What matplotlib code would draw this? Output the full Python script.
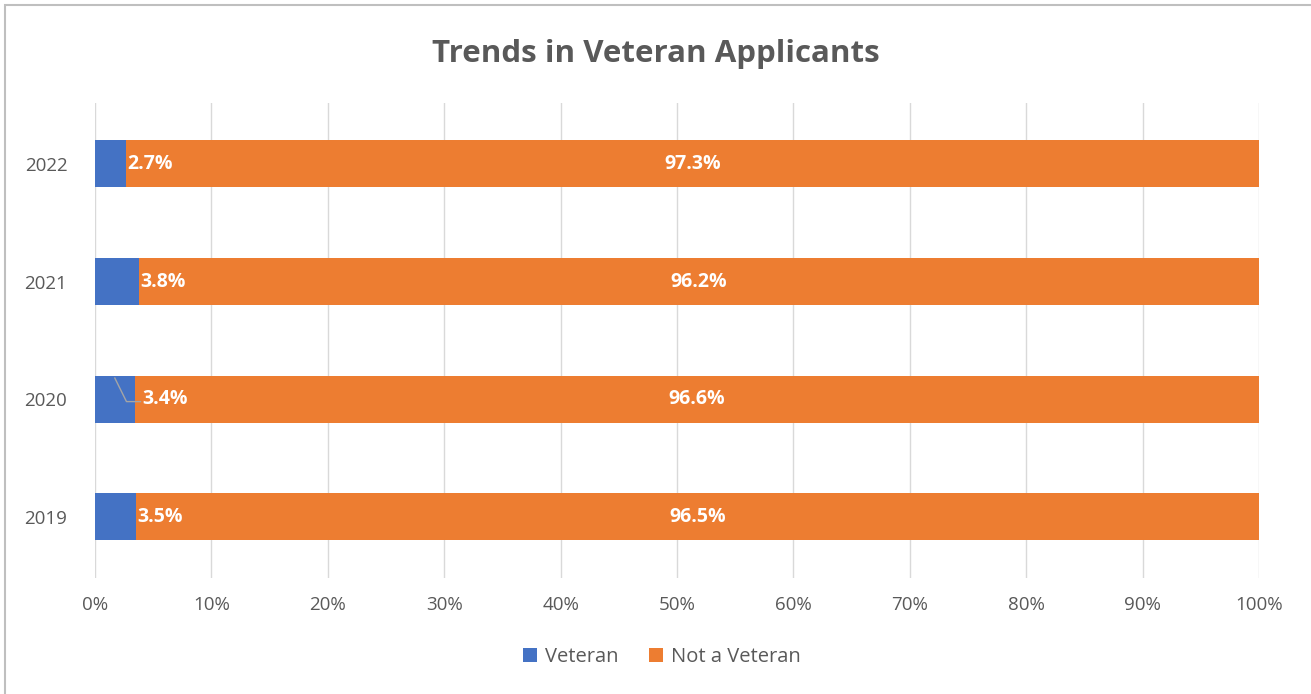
import matplotlib.pyplot as plt
from matplotlib.patches import Rectangle

years = ["2019", "2020", "2021", "2022"]
veteran = [3.5, 3.4, 3.8, 2.7]
not_veteran = [96.5, 96.6, 96.2, 97.3]
ticks = list(range(0, 101, 10))

blue = "#4472C4"
orange = "#ED7D31"
gray = "#595959"

plt.rcParams["font.family"] = ["Open Sans", "DejaVu Sans"]

fig = plt.figure(figsize=(13.11, 6.94), dpi=100)
ax = fig.add_axes([0.0725, 0.167, 0.8878, 0.685])

y = list(range(len(years)))
ax.barh(y, veteran, height=0.4, color=blue, label="Veteran", zorder=3)
ax.barh(y, not_veteran, left=veteran, height=0.4, color=orange, label="Not a Veteran", zorder=3)

for i in y:
    v = veteran[i]
    n = not_veteran[i]
    if years[i] == "2020":
        # leader line for the small segment label
        ax.plot([1.7, 2.7, 3.9], [i + 0.18, i - 0.02, i - 0.02], color="#a5a5a5", lw=1, zorder=4)
        ax.text(4.1, i, f"{v}%", color="white", fontsize=14, fontweight="bold", va="center", ha="left", zorder=5)
    else:
        ax.text(v + 0.1, i, f"{v}%", color="white", fontsize=14, fontweight="bold", va="center", ha="left", zorder=5)
    ax.text(v + n / 2, i, f"{n}%", color="white", fontsize=14, fontweight="bold", va="center", ha="center", zorder=5)

ax.set_xlim(0, 100)
ax.set_ylim(-0.52, 3.52)
ax.set_xticks(ticks)
ax.set_xticklabels([f"{t}%" for t in ticks])
ax.set_yticks(y)
ax.set_yticklabels(years)
ax.tick_params(length=0, colors=gray, labelsize=13.5, pad=13)
ax.tick_params(axis="y", pad=20)
ax.grid(axis="x", color="#d9d9d9", lw=1, zorder=0)
for s in ax.spines.values():
    s.set_visible(False)

fig.suptitle("Trends in Veteran Applicants", y=0.944, fontsize=22.5, fontweight="bold", color=gray)

leg = fig.legend(loc="center", bbox_to_anchor=(0.505, 0.053), ncol=2, frameon=False,
                 fontsize=14.5, handlelength=0.7, handleheight=0.7, handletextpad=0.4, columnspacing=1.5)
for t in leg.get_texts():
    t.set_color(gray)

fig.patches.append(Rectangle((5 / 1311, -0.01), 1.02, 1.0028, transform=fig.transFigure,
                             fill=False, edgecolor="#bfbfbf", lw=1.5))

fig.savefig("out.png", dpi=100)
